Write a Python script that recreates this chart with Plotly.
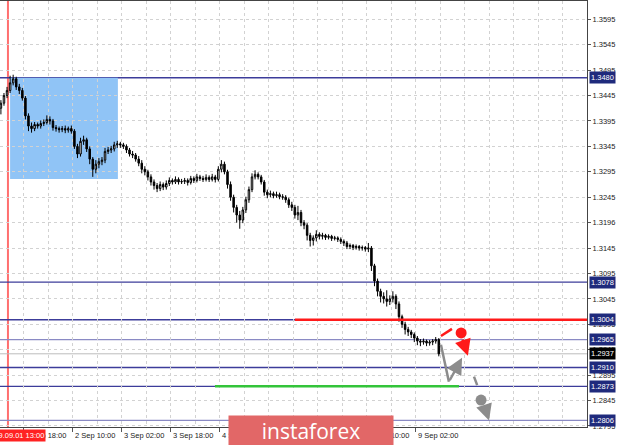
import plotly.graph_objects as go

# ---------------- data ----------------
opens = [1.3420,1.3430,1.3445,1.3455,1.3470,1.3478,1.3462,1.3455,1.3440,1.3405,
 1.3385,1.3380,1.3388,1.3385,1.3390,1.3392,1.3398,1.3395,1.3382,1.3380,
 1.3378,1.3380,1.3377,1.3380,1.3375,1.3345,1.3330,1.3355,1.3358,1.3340,
 1.3320,1.3300,1.3310,1.3315,1.3318,1.3335,1.3338,1.3340,1.3348,1.3350,
 1.3348,1.3345,1.3338,1.3330,1.3328,1.3320,1.3312,1.3300,1.3295,1.3285,
 1.3275,1.3268,1.3262,1.3270,1.3265,1.3272,1.3278,1.3275,1.3280,1.3275,
 1.3276,1.3278,1.3274,1.3282,1.3278,1.3285,1.3282,1.3280,1.3284,1.3280,
 1.3285,1.3280,1.3300,1.3310,1.3295,1.3270,1.3245,1.3225,1.3210,1.3200,
 1.3220,1.3240,1.3260,1.3285,1.3290,1.3285,1.3275,1.3255,1.3250,1.3252,
 1.3248,1.3250,1.3246,1.3245,1.3240,1.3230,1.3225,1.3210,1.3215,1.3195,
 1.3190,1.3170,1.3160,1.3165,1.3172,1.3168,1.3170,1.3166,1.3168,1.3164,
 1.3165,1.3162,1.3158,1.3155,1.3148,1.3150,1.3146,1.3148,1.3145,1.3146,
 1.3143,1.3145,1.3110,1.3080,1.3060,1.3050,1.3045,1.3040,1.3045,1.3050,
 1.3035,1.3010,1.2995,1.2985,1.2980,1.2975,1.2968,1.2962,1.2960,1.2962,
 1.2958,1.2960,1.2962,1.2965]

closes = [1.3430,1.3445,1.3455,1.3470,1.3478,1.3462,1.3455,1.3440,1.3405,1.3385,
 1.3380,1.3388,1.3385,1.3390,1.3392,1.3398,1.3395,1.3382,1.3380,1.3378,
 1.3380,1.3377,1.3380,1.3375,1.3345,1.3330,1.3355,1.3358,1.3340,1.3320,
 1.3300,1.3310,1.3315,1.3318,1.3335,1.3338,1.3340,1.3348,1.3350,1.3348,
 1.3345,1.3338,1.3330,1.3328,1.3320,1.3312,1.3300,1.3295,1.3285,1.3275,
 1.3268,1.3262,1.3270,1.3265,1.3272,1.3278,1.3275,1.3280,1.3275,1.3276,
 1.3278,1.3274,1.3282,1.3278,1.3285,1.3282,1.3280,1.3284,1.3280,1.3285,
 1.3280,1.3300,1.3310,1.3295,1.3270,1.3245,1.3225,1.3210,1.3200,1.3220,
 1.3240,1.3260,1.3285,1.3290,1.3285,1.3275,1.3255,1.3250,1.3252,1.3248,
 1.3250,1.3246,1.3245,1.3240,1.3230,1.3225,1.3210,1.3215,1.3195,1.3190,
 1.3170,1.3160,1.3165,1.3172,1.3168,1.3170,1.3166,1.3168,1.3164,1.3165,
 1.3162,1.3158,1.3155,1.3148,1.3150,1.3146,1.3148,1.3145,1.3146,1.3143,
 1.3145,1.3110,1.3080,1.3060,1.3050,1.3045,1.3040,1.3045,1.3050,1.3035,
 1.3010,1.2995,1.2985,1.2980,1.2975,1.2968,1.2962,1.2960,1.2962,1.2958,
 1.2960,1.2962,1.2965,1.2937]

highs = [1.3436,1.3450,1.3462,1.3484,1.3486,1.3482,1.3468,1.3460,1.3444,1.3410,
 1.3392,1.3393,1.3392,1.3396,1.3398,1.3406,1.3404,1.3399,1.3387,1.3384,
 1.3385,1.3386,1.3384,1.3386,1.3379,1.3350,1.3362,1.3366,1.3362,1.3345,
 1.3324,1.3318,1.3322,1.3324,1.3342,1.3344,1.3346,1.3354,1.3356,1.3354,
 1.3352,1.3349,1.3342,1.3336,1.3332,1.3326,1.3318,1.3306,1.3299,1.3290,
 1.3280,1.3273,1.3276,1.3274,1.3278,1.3284,1.3282,1.3286,1.3284,1.3281,
 1.3283,1.3282,1.3287,1.3286,1.3291,1.3289,1.3287,1.3290,1.3288,1.3291,
 1.3289,1.3306,1.3318,1.3315,1.3299,1.3276,1.3250,1.3230,1.3218,1.3226,
 1.3246,1.3266,1.3292,1.3298,1.3294,1.3289,1.3279,1.3260,1.3258,1.3256,
 1.3256,1.3254,1.3251,1.3249,1.3244,1.3236,1.3230,1.3228,1.3220,1.3200,
 1.3194,1.3175,1.3170,1.3180,1.3176,1.3175,1.3173,1.3172,1.3171,1.3169,
 1.3168,1.3166,1.3162,1.3159,1.3154,1.3153,1.3152,1.3151,1.3150,1.3149,
 1.3155,1.3149,1.3114,1.3085,1.3065,1.3058,1.3062,1.3052,1.3060,1.3054,
 1.3040,1.3014,1.3000,1.2990,1.2984,1.2979,1.2972,1.2966,1.2967,1.2965,
 1.2964,1.2966,1.2970,1.2968]

lows = [1.3408,1.3425,1.3440,1.3450,1.3465,1.3456,1.3448,1.3435,1.3398,1.3375,
 1.3372,1.3375,1.3380,1.3380,1.3385,1.3388,1.3388,1.3376,1.3374,1.3372,
 1.3373,1.3371,1.3372,1.3370,1.3340,1.3322,1.3325,1.3348,1.3334,1.3310,
 1.3285,1.3292,1.3302,1.3308,1.3312,1.3330,1.3332,1.3335,1.3342,1.3342,
 1.3340,1.3332,1.3325,1.3322,1.3315,1.3306,1.3292,1.3288,1.3278,1.3268,
 1.3260,1.3255,1.3257,1.3259,1.3260,1.3267,1.3270,1.3271,1.3270,1.3271,
 1.3271,1.3268,1.3270,1.3273,1.3274,1.3277,1.3275,1.3276,1.3275,1.3276,
 1.3274,1.3276,1.3294,1.3290,1.3262,1.3238,1.3215,1.3195,1.3183,1.3194,
 1.3214,1.3234,1.3255,1.3280,1.3280,1.3270,1.3248,1.3243,1.3245,1.3243,
 1.3244,1.3241,1.3240,1.3234,1.3224,1.3218,1.3203,1.3200,1.3188,1.3182,
 1.3160,1.3148,1.3150,1.3158,1.3162,1.3162,1.3161,1.3162,1.3159,1.3160,
 1.3157,1.3153,1.3149,1.3143,1.3143,1.3141,1.3142,1.3140,1.3140,1.3138,
 1.3137,1.3100,1.3070,1.3050,1.3038,1.3036,1.3030,1.3033,1.3038,1.3025,
 1.3000,1.2988,1.2975,1.2972,1.2968,1.2960,1.2954,1.2952,1.2955,1.2952,
 1.2953,1.2954,1.2957,1.2932]

bar_index = list(range(len(closes)))

price_ticks = [1.3595, 1.3545, 1.3495, 1.3445, 1.3395, 1.3345, 1.3295, 1.3245, 1.3196,
               1.3145, 1.3095, 1.3045, 1.2995, 1.2945, 1.2895, 1.2845, 1.2795]
price_tick_text = ["1.3595", "1.3545", "1.3495", "1.3445", "1.3395", "1.3345", "1.3295", "1.3245", "1.3196",
                   "1.3145", "1.3095", "1.3045", "1.2995", "1.2945", "1.2895", "1.2845", "1.2795"]

time_tick_bars = [7.5, 23.5, 39.5, 55.5, 71.5, 87.5, 103.5, 119.5, 135.5]
time_tick_text = ["1 Sep 18:00", "2 Sep 10:00", "3 Sep 02:00", "3 Sep 18:00", "4 Sep 10:00",
                  "5 Sep 02:00", "5 Sep 18:00", "8 Sep 10:00", "9 Sep 02:00"]

levels = [1.3480, 1.3078, 1.3004, 1.2965, 1.2910, 1.2873, 1.2806]
level_colors = ["#3c3c9a", "#3c3c9a", "#3c3c9a", "#8a8ac4", "#3c3c9a", "#3c3c9a", "#8a8ac4"]
current_price = 1.2937

red_level = 1.3004
red_level_start = 96.0
green_level = 1.2873
green_level_span = [69.9, 149.6]

zone_bars = [3.0, 38.2]
zone_prices = [1.3480, 1.3281]
vline_bar = 2.3
vline_label = "2019.09.01 13:00"

red_dash_x = [143.7, 147.3]
red_dash_y = [1.2972, 1.2986]
red_dot = [150.3, 1.2978]
red_arrow = [150.6, 1.2968, 152.5, 1.2933]

gray_path_x = [143.7, 146.3, 150.6]
gray_path_y = [1.2955, 1.2882, 1.2929]
gray_dash_x = [154.5, 156.5]
gray_dash_y = [1.2892, 1.2860]
gray_dot = [156.8, 1.2846]
gray_arrow = [157.8, 1.2836, 159.4, 1.2806]

x_range = [-0.3, 191.4]
y_range = [1.27930, 1.36310]

NAVY = "#1f2a7c"
FONT = "Liberation Sans"

fig = go.Figure()

# zone rectangle
fig.add_shape(type="rect", x0=zone_bars[0], x1=zone_bars[1], y0=zone_prices[1], y1=zone_prices[0],
              fillcolor="#90c4f6", line=dict(width=0), layer="below")
# vertical line
fig.add_shape(type="line", x0=vline_bar, x1=vline_bar, y0=0, y1=1, yref="paper",
              line=dict(color="#ff6f6f", width=2), layer="below")
# current price line
fig.add_shape(type="line", x0=0, x1=1, xref="paper", y0=current_price, y1=current_price,
              line=dict(color="#bdbdbd", width=1), layer="below")
# horizontal levels
for lv, col in zip(levels, level_colors):
    fig.add_shape(type="line", x0=0, x1=1, xref="paper", y0=lv, y1=lv,
                  line=dict(color=col, width=1.3), layer="below")
# red level segment
fig.add_shape(type="line", x0=red_level_start, x1=x_range[1], y0=red_level, y1=red_level,
              line=dict(color="#ff1a1a", width=2.5))
# green level segment
fig.add_shape(type="line", x0=green_level_span[0], x1=green_level_span[1], y0=green_level, y1=green_level,
              line=dict(color="#33c43a", width=2.5))

fig.add_trace(go.Candlestick(
    x=bar_index, open=opens, high=highs, low=lows, close=closes,
    increasing=dict(line=dict(color="#000000", width=1), fillcolor="#ffffff"),
    decreasing=dict(line=dict(color="#000000", width=1), fillcolor="#000000"),
    whiskerwidth=0, showlegend=False, hoverinfo="skip"))

# red forecast
fig.add_trace(go.Scatter(x=red_dash_x, y=red_dash_y, mode="lines",
                         line=dict(color="#ff1a1a", width=2.5), showlegend=False, hoverinfo="skip"))
fig.add_trace(go.Scatter(x=[red_dot[0]], y=[red_dot[1]], mode="markers",
                         marker=dict(color="#ff1a1a", size=11), showlegend=False, hoverinfo="skip"))
fig.add_annotation(x=red_arrow[2], y=red_arrow[3], ax=red_arrow[0], ay=red_arrow[1],
                   xref="x", yref="y", axref="x", ayref="y", text="", showarrow=True,
                   arrowhead=2, arrowsize=1.3, arrowwidth=2.5, arrowcolor="#ff1a1a")
# gray forecast
fig.add_trace(go.Scatter(x=gray_path_x[:2], y=gray_path_y[:2], mode="lines",
                         line=dict(color="#8c8c8c", width=2.5), showlegend=False, hoverinfo="skip"))
fig.add_annotation(x=gray_path_x[2], y=gray_path_y[2], ax=gray_path_x[1], ay=gray_path_y[1],
                   xref="x", yref="y", axref="x", ayref="y", text="", showarrow=True,
                   arrowhead=2, arrowsize=1.3, arrowwidth=2.5, arrowcolor="#8c8c8c")
fig.add_trace(go.Scatter(x=gray_dash_x, y=gray_dash_y, mode="lines",
                         line=dict(color="#8c8c8c", width=2.5, dash="dash"), showlegend=False, hoverinfo="skip"))
fig.add_trace(go.Scatter(x=[gray_dot[0]], y=[gray_dot[1]], mode="markers",
                         marker=dict(color="#8c8c8c", size=11), showlegend=False, hoverinfo="skip"))
fig.add_annotation(x=gray_arrow[2], y=gray_arrow[3], ax=gray_arrow[0], ay=gray_arrow[1],
                   xref="x", yref="y", axref="x", ayref="y", text="", showarrow=True,
                   arrowhead=2, arrowsize=1.3, arrowwidth=2.5, arrowcolor="#8c8c8c")

# level price labels on the axis
for lv in levels:
    fig.add_annotation(x=1, xref="paper", xanchor="left", xshift=2, y=lv, yref="y", yanchor="middle",
                       text=f"{lv:.4f}", showarrow=False, bgcolor=NAVY, borderpad=1,
                       font=dict(family=FONT, size=7.5, color="#ffffff"))
fig.add_annotation(x=1, xref="paper", xanchor="left", xshift=2, y=current_price, yref="y", yanchor="middle",
                   text=f"{current_price:.4f}", showarrow=False, bgcolor="#000000", borderpad=1,
                   font=dict(family=FONT, size=7.5, color="#ffffff"))

# time labels, left-aligned at their ticks
for xb, t in zip(time_tick_bars, time_tick_text):
    fig.add_annotation(x=xb, xref="x", xanchor="left", xshift=0, y=-0.02, yref="paper", yanchor="middle",
                       text=t, showarrow=False, font=dict(family=FONT, size=7.5, color="#222222"))

# red vertical-line time label
fig.add_annotation(x=46 / 587, xref="paper", xanchor="right", y=-0.02, yref="paper", yanchor="middle",
                   text=vline_label, showarrow=False, bgcolor="#ff2222", borderpad=1,
                   font=dict(family=FONT, size=7.5, color="#ffffff"))

# logo
fig.add_annotation(x=310.5 / 587, xref="paper", xanchor="center", y=-0.01, yref="paper", yanchor="middle",
                   text="instaforex", showarrow=False, bgcolor="#e26767", width=162, height=28,
                   font=dict(family="Open Sans", size=21, color="#ffffff"))

fig.update_layout(
    width=620, height=445,
    margin=dict(l=0, r=33, t=1, b=18),
    paper_bgcolor="#ffffff", plot_bgcolor="#ffffff",
    showlegend=False,
    xaxis=dict(range=x_range, rangeslider=dict(visible=False),
               tickmode="array", tickvals=time_tick_bars, showticklabels=False,
               ticks="outside", ticklen=4, tickcolor="#555555",
               showgrid=True, gridcolor="#d2d2d2", griddash="dot", gridwidth=1,
               minor=dict(tickmode="linear", tick0=7.5, dtick=8, showgrid=True,
                          gridcolor="#d2d2d2", griddash="dot", gridwidth=1),
               showline=True, linecolor="#444444", linewidth=1, mirror=True, zeroline=False),
    yaxis=dict(range=y_range, side="right", tickmode="array", tickvals=price_ticks, ticktext=price_tick_text,
               ticks="outside", ticklen=3, tickcolor="#555555",
               tickfont=dict(family=FONT, size=7.5, color="#222222"),
               showgrid=True, gridcolor="#d2d2d2", griddash="dot", gridwidth=1,
               showline=True, linecolor="#444444", linewidth=1, zeroline=False),
)

fig.write_html("out.html", config={"displayModeBar": False},
               post_script="document.body.style.margin='0';document.body.style.overflow='hidden';")
